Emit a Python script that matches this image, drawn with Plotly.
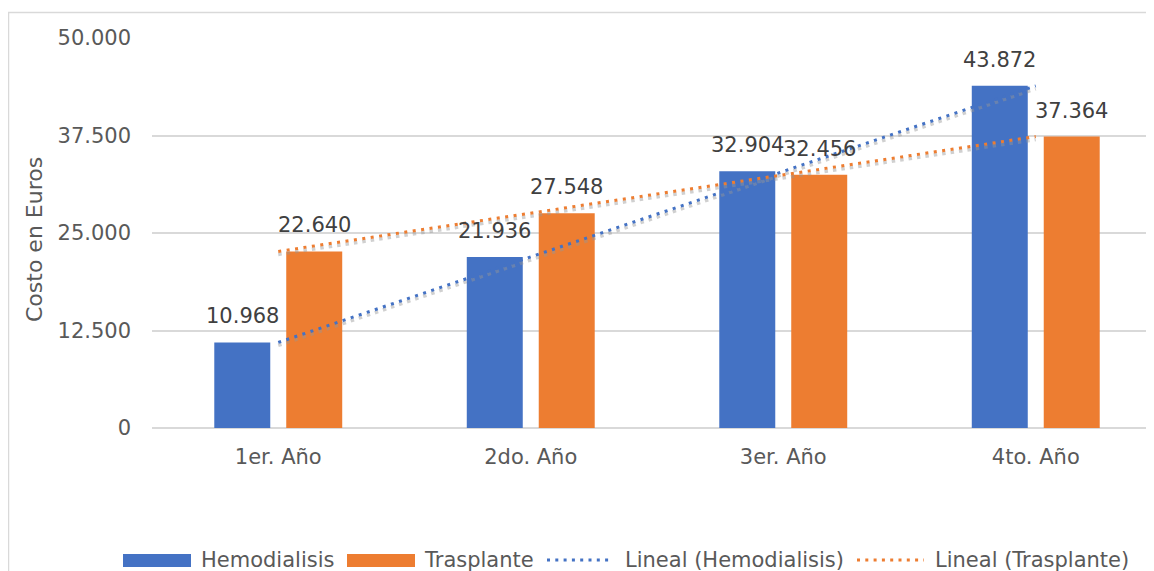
import numpy as np
import plotly.graph_objects as go

categories = ["1er. Año", "2do. Año", "3er. Año", "4to. Año"]
hemodialisis = [10968, 21936, 32904, 43872]
trasplante = [22640, 27548, 32456, 37364]
y_ticks = [0, 12500, 25000, 37500, 50000]
y_title = "Costo en Euros"
series_names = ["Hemodialisis", "Trasplante"]
trend_names = ["Lineal (Hemodialisis)", "Lineal (Trasplante)"]

BLUE = "#4472C4"
ORANGE = "#ED7D31"
GRID = "#D9D9D9"
TICK = "#595959"
LABEL = "#404040"
FONT = "DejaVu Sans"

OFF = 8  # page body margin
W, H = 1154 - OFF, 571 - OFF
L, R, T, B = 152 - OFF, 0, 38 - OFF, 143
PW, PH = W - L - R, H - T - B


def px2x(px):
    return (px - OFF - L) / PW


def py2y(py):
    return (H - B - (py - OFF)) / PH


def fmt(v):
    return f"{v:,}".replace(",", ".")


fig = go.Figure()
xi = np.arange(len(categories))

fig.add_trace(go.Bar(x=categories, y=hemodialisis, name=series_names[0],
                     marker=dict(color=BLUE, line=dict(width=0))))
fig.add_trace(go.Bar(x=categories, y=trasplante, name=series_names[1],
                     marker=dict(color=ORANGE, line=dict(width=0))))

# linear trendlines (least squares fit) with soft gray shadow
shadow_off = 3 * 50000 / PH
for vals, col, nm in [(hemodialisis, BLUE, trend_names[0]), (trasplante, ORANGE, trend_names[1])]:
    k, b0 = np.polyfit(xi, vals, 1)
    fit = k * xi + b0
    fig.add_trace(go.Scatter(x=categories, y=fit - shadow_off, mode="lines",
                             line=dict(color="rgba(150,150,150,0.45)", width=3.5, dash="3.5px,5px"),
                             hoverinfo="skip", showlegend=False))
    fig.add_trace(go.Scatter(x=categories, y=fit, mode="lines", name=nm,
                             line=dict(color=col, width=3, dash="3px,5.5px")))

annotations = []
for vals, sh in [(hemodialisis, -36), (trasplante, 36)]:
    for c, v in zip(categories, vals):
        annotations.append(dict(x=c, y=v, xref="x", yref="y", text=fmt(v), showarrow=False,
                                xshift=sh, yshift=12, yanchor="bottom",
                                font=dict(family=FONT, size=21, color=LABEL)))

# y axis title
annotations.append(dict(x=px2x(35), y=py2y(240), xref="paper", yref="paper", text=y_title,
                        showarrow=False, textangle=-90, xanchor="center", yanchor="middle",
                        font=dict(family=FONT, size=22, color=TICK)))

# manual legend
shapes = []
legend_y = py2y(560)
items = [
    ("rect", BLUE, 123, 191, 199, series_names[0]),
    ("rect", ORANGE, 347, 415, 422, series_names[1]),
    ("dot", BLUE, 547, 613, 623, trend_names[0]),
    ("dot", ORANGE, 857, 924, 933, trend_names[1]),
]
for kind, col, x0, x1, tx, txt in items:
    if kind == "rect":
        shapes.append(dict(type="rect", xref="paper", yref="paper",
                           x0=px2x(x0), x1=px2x(x1), y0=py2y(567), y1=py2y(554),
                           fillcolor=col, line=dict(width=0)))
    else:
        shapes.append(dict(type="line", xref="paper", yref="paper",
                           x0=px2x(x0), x1=px2x(x1), y0=legend_y, y1=legend_y,
                           line=dict(color=col, width=3, dash="3px,5.3px")))
    annotations.append(dict(x=px2x(tx), y=legend_y, xref="paper", yref="paper", text=txt,
                            showarrow=False, xanchor="left", yanchor="middle",
                            font=dict(family=FONT, size=21, color=TICK)))

# chart border
shapes.append(dict(type="rect", xref="paper", yref="paper", layer="below",
                   x0=px2x(8.5), x1=px2x(1200), y0=py2y(620), y1=py2y(12.5),
                   line=dict(color=GRID, width=1.5), fillcolor="rgba(0,0,0,0)"))

fig.update_layout(
    width=W, height=H,
    margin=dict(l=L, r=R, t=T, b=B, pad=0),
    paper_bgcolor="white", plot_bgcolor="white",
    separators=",.",
    barmode="group", bargap=0.43, bargroupgap=0.222,
    showlegend=False,
    font=dict(family=FONT, size=21, color=TICK),
    annotations=annotations, shapes=shapes,
    xaxis=dict(type="category", range=[-0.5, -0.5 + PW / 252.5], showgrid=False,
               showline=False, zeroline=False, ticks="", ticklabelstandoff=14,
               tickfont=dict(family=FONT, size=21, color=TICK), fixedrange=True),
    yaxis=dict(range=[0, 50000], tickvals=y_ticks, tickformat=",",
               showgrid=True, gridcolor=GRID, gridwidth=1.5,
               zeroline=True, zerolinecolor=GRID, zerolinewidth=1.5,
               showline=False, ticks="", ticklabelstandoff=20,
               tickfont=dict(family=FONT, size=21, color=TICK), fixedrange=True),
)

fig.write_html("out.html")
